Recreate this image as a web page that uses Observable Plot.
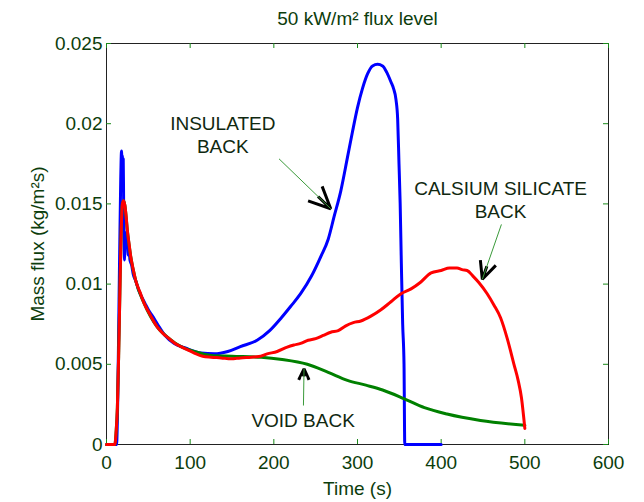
<!DOCTYPE html>
<html>
<head>
<meta charset="utf-8">
<script src="https://cdn.jsdelivr.net/npm/d3@7"></script>
<script src="https://cdn.jsdelivr.net/npm/@observablehq/plot@0.6"></script>
<style>
  html, body { margin: 0; padding: 0; background: #fff; }
  #chart svg { display: block; }
</style>
</head>
<body>
<div id="chart"></div>
<script>
// ---- data ----
const titleText = "50 kW/m² flux level";
const xLabel = "Time (s)";
const yLabel = "Mass flux (kg/m²s)";
const xTicks = [0, 100, 200, 300, 400, 500, 600];
const yTicks = [0, 0.005, 0.01, 0.015, 0.02, 0.025];
const yTickLabels = ["0", "0.005", "0.01", "0.015", "0.02", "0.025"];

// INSULATED BACK (blue)
const blueT = [0,12,13.5,15,16,17,17.5,18,18.5,19,19.5,20,20.5,21,21.5,22,23,24,25,26,27,28,30,32,35,38,42,46,50,55,61,70,81,95,113,129,145,160,180,195,209,220,232,245,256,265,272,280,288,294,300,306,312,318,324,330,335,340,343,346,348,349.6,351,352.4,354,355.6,356.5,370,385,400];
const blueV = [0,0,0.003,0.009,0.013,0.0165,0.0178,0.0183,0.0172,0.018,0.0168,0.0178,0.015,0.0128,0.0115,0.0122,0.0132,0.0126,0.013,0.0118,0.0123,0.0115,0.0112,0.0106,0.0102,0.0097,0.0092,0.0088,0.0084,0.0080,0.0075,0.0068,0.0063,0.0060,0.0057,0.00565,0.0058,0.0061,0.0065,0.0071,0.0079,0.0086,0.0094,0.0105,0.0117,0.0128,0.0142,0.0158,0.0179,0.0195,0.0210,0.0222,0.0231,0.0236,0.0237,0.0236,0.0232,0.0226,0.0222,0.0215,0.0203,0.0175,0.0150,0.0113,0.0075,0.005,0,0,0,0];

// VOID BACK (green)
const greenT = [0,10,11.5,13,14.5,16,17.5,19,20.5,22,25,29,35,45,61,75,89,105,125,150,185,210,240,265,288,310,330,356,380,407,447,500];
const greenV = [0,0,0.0008,0.0023,0.0055,0.0095,0.0132,0.0150,0.0152,0.0149,0.0133,0.0117,0.0102,0.0088,0.0073,0.0066,0.0061,0.0058,0.00555,0.0055,0.00544,0.0053,0.0050,0.0045,0.0040,0.0037,0.0034,0.00285,0.0023,0.0019,0.0015,0.0012];

// CALSIUM SILICATE BACK (red)
const redT = [0,10,11.5,13,14.5,16,17.5,19,20.5,22,23.5,25,27,29,32,35,40,45,52,61,68,75,82,89,97,105,115,125,137,149,160,173,182,192,204,216,224,232,241,250,259,268,277,286,295,304,316,328,340,352,364,375,388,400,410,419,425,431,438,445,455,463,471,479,487,492,496,500];
const redV = [0,0,0.0008,0.0023,0.0055,0.0095,0.0132,0.0150,0.0152,0.0149,0.0142,0.0133,0.0125,0.0117,0.0109,0.0102,0.0095,0.0088,0.0081,0.0073,0.0069,0.0066,0.0063,0.0061,0.0059,0.0057,0.0055,0.00544,0.0054,0.00534,0.0054,0.00544,0.00548,0.00565,0.0058,0.00607,0.0062,0.0063,0.0065,0.0066,0.0068,0.0070,0.0071,0.0074,0.0076,0.0077,0.0080,0.0084,0.0089,0.0094,0.0097,0.0101,0.0107,0.01085,0.0110,0.0110,0.0109,0.01085,0.0105,0.0101,0.0094,0.0087,0.0079,0.0066,0.0050,0.0040,0.0029,0.001];

// annotations (data units)
const noteText = ["INSULATED\nBACK", "CALSIUM SILICATE\nBACK", "VOID BACK"];
const noteT = [139, 471, 235];
const noteV = [0.01935, 0.01531, 0.00156];
const arrowT1 = [206.2, 472, 235.4];
const arrowV1 = [0.01781, 0.01372, 0.00243];
const arrowT2 = [268, 449.2, 236.1];
const arrowV2 = [0.0147, 0.0103, 0.00472];

// ---- build ----
const toRows = (T, V) => T.map((t, i) => ({t, v: V[i]}));
const blue = toRows(blueT, blueV);
const green = toRows(greenT, greenV);
const red = toRows(redT, redV);
const notes = noteText.map((s, i) => ({s, t: noteT[i], v: noteV[i]}));
const arrows = arrowT1.map((t, i) => ({t1: t, v1: arrowV1[i], t2: arrowT2[i], v2: arrowV2[i]}));
const shafts = arrows.map(a => ({
  t1: a.t1, v1: a.v1, t2: a.t1 + 0.72 * (a.t2 - a.t1), v2: a.v1 + 0.72 * (a.v2 - a.v1)
}));

const W = 644, H = 502;
const mL = 106, mR = 36, mT = 43, mB = 58;
const fw = W - mL - mR, fh = H - mT - mB;
const txt = "#0c3d0c";
const font = "Liberation Sans, Arial, sans-serif";
const tl = 5;

const plot = Plot.plot({
  width: W, height: H,
  marginLeft: mL, marginRight: mR, marginTop: mT, marginBottom: mB,
  style: {fontFamily: font, fontSize: "19px", background: "#fff", color: txt},
  x: {domain: [0, 600]},
  y: {domain: [0, 0.025]},
  marks: [
    Plot.frame({stroke: "#222", strokeWidth: 1}),
    // inward ticks on all four sides
    Plot.tickX(xTicks, {x: d => d, insetTop: fh - tl, stroke: "#1a8a1a"}),
    Plot.tickX(xTicks, {x: d => d, insetBottom: fh - tl, stroke: "#1a8a1a"}),
    Plot.tickY(yTicks, {y: d => d, insetRight: fw - tl, stroke: "#1a8a1a"}),
    Plot.tickY(yTicks, {y: d => d, insetLeft: fw - tl, stroke: "#1a8a1a"}),
    Plot.axisX(xTicks, {tickSize: 0, tickPadding: 11, label: null, fill: txt, fontSize: 19}),
    Plot.axisY(yTicks, {tickSize: 0, tickPadding: 4, label: null, fill: txt, fontSize: 19,
      tickFormat: d => yTickLabels[yTicks.indexOf(d)]}),
    Plot.line(blue, {x: "t", y: "v", stroke: "#0000ff", strokeWidth: 3, curve: "monotone-x"}),
    Plot.line(green, {x: "t", y: "v", stroke: "#008000", strokeWidth: 3, curve: "monotone-x"}),
    Plot.line(red, {x: "t", y: "v", stroke: "#ff0000", strokeWidth: 3, curve: "monotone-x"}),
    // annotations: black arrow with head, shaft replaced by a thin green line
    Plot.arrow(arrows, {x1: "t1", y1: "v1", x2: "t2", y2: "v2", stroke: "#000", strokeWidth: 3,
      headLength: 15, headAngle: 50, strokeLinejoin: "miter", strokeLinecap: "butt"}),
    Plot.link(shafts, {x1: "t1", y1: "v1", x2: "t2", y2: "v2", stroke: "#fff", strokeWidth: 5,
      strokeLinecap: "square"}),
    Plot.link(arrows, {x1: "t1", y1: "v1", x2: "t2", y2: "v2", stroke: "#3a9a3a", strokeWidth: 1}),
    Plot.text(notes, {x: "t", y: "v", text: "s", fill: "#102810", fontSize: 19, lineHeight: 1.2,
      lineAnchor: "middle", textAnchor: "middle"}),
    // title and axis labels
    Plot.text([titleText], {frameAnchor: "top", dy: -25, lineAnchor: "middle", fill: txt, fontSize: 19}),
    Plot.text([xLabel], {frameAnchor: "bottom", dy: 44, lineAnchor: "middle", fill: txt, fontSize: 19}),
    Plot.text([yLabel], {frameAnchor: "left", dx: -69, rotate: -90, lineAnchor: "middle",
      textAnchor: "middle", fill: txt, fontSize: 19})
  ]
});
document.getElementById("chart").appendChild(plot);
</script>
</body>
</html>
